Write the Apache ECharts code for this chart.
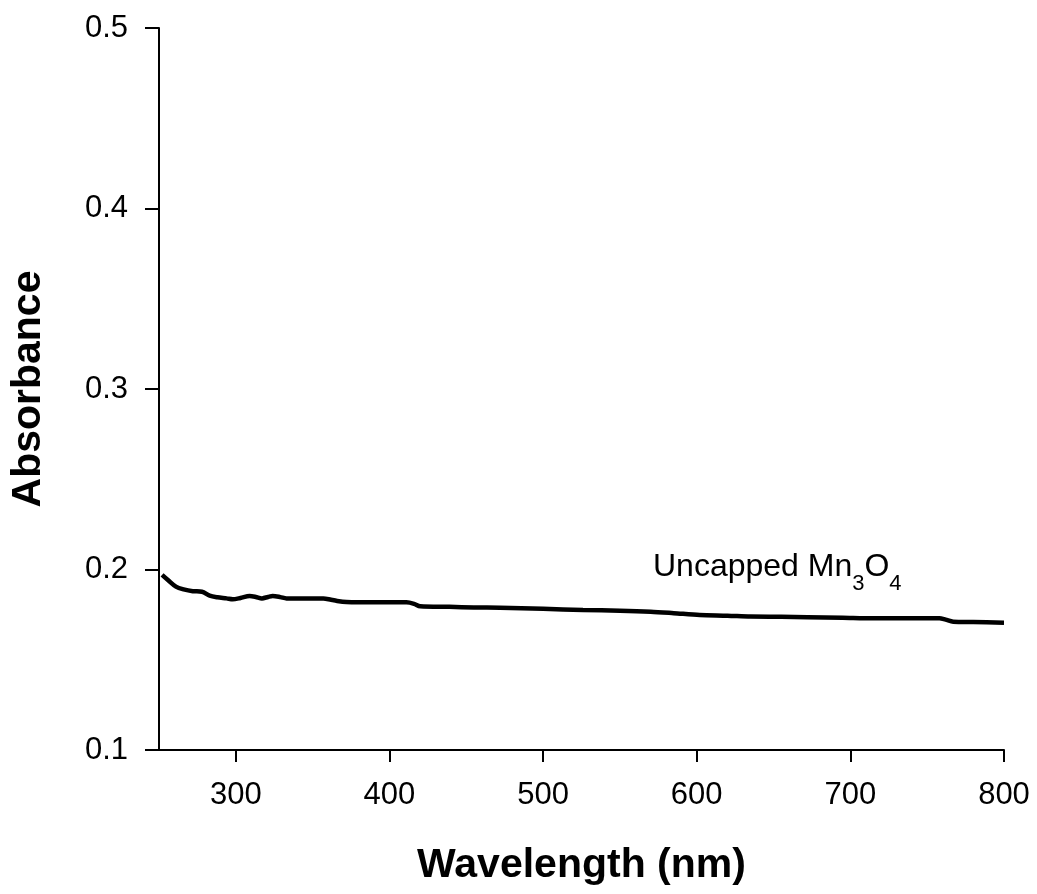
<!DOCTYPE html>
<html>
<head>
<meta charset="utf-8">
<script src="https://cdn.jsdelivr.net/npm/echarts@6/dist/echarts.min.js"></script>
<style>html,body{margin:0;padding:0;background:#fff}#c{width:1037px;height:894px}</style>
</head>
<body>
<div id="c"></div>
<script>
var wavelength = [252, 256, 261, 266, 272, 278, 283, 288, 294, 298, 303, 309, 313, 317, 321, 324, 329, 333, 345, 357, 362, 366, 372, 379, 395, 411, 416, 420, 439, 455, 472, 500, 526, 550, 570, 585, 602, 620, 635, 655, 672, 695, 715, 740, 758, 762, 767, 780, 800];
var absorbance = [0.197, 0.194, 0.1905, 0.189, 0.188, 0.1877, 0.1855, 0.1846, 0.184, 0.1835, 0.1842, 0.1853, 0.1848, 0.184, 0.1848, 0.1853, 0.1847, 0.184, 0.184, 0.184, 0.1832, 0.1826, 0.182, 0.1818, 0.1818, 0.1818, 0.181, 0.1796, 0.1793, 0.179, 0.1788, 0.1782, 0.1776, 0.1772, 0.1766, 0.1758, 0.1748, 0.1744, 0.1739, 0.1738, 0.1736, 0.1733, 0.173, 0.173, 0.173, 0.1722, 0.1711, 0.1709, 0.1705];
var xTicks = [300, 400, 500, 600, 700, 800];
var yTicks = [0.1, 0.2, 0.3, 0.4, 0.5];
var seriesLabel = 'Uncapped Mn';

var chart = echarts.init(document.getElementById('c'));
var font = '"Liberation Sans", Arial, sans-serif';
chart.setOption({
  animation: false,
  backgroundColor: '#fff',
  grid: {left: 159, right: 33, top: 28, bottom: 144, containLabel: false, outerBoundsMode: 'none'},
  xAxis: {
    type: 'value', min: 250, max: 800,
    name: 'Wavelength (nm)', nameLocation: 'middle', nameGap: 95,
    nameTextStyle: {fontFamily: font, fontSize: 41, fontWeight: 'bold', color: '#000'},
    axisLine: {lineStyle: {color: '#000', width: 2}},
    axisTick: {show: true, length: 12, lineStyle: {color: '#000', width: 2},
      customValues: xTicks},
    axisLabel: {fontFamily: font, fontSize: 31, color: '#000', margin: 30,
      customValues: xTicks},
    splitLine: {show: false}
  },
  yAxis: {
    type: 'value', min: 0.1, max: 0.5, interval: 0.1,
    name: 'Absorbance', nameLocation: 'middle', nameGap: 110, nameRotate: 90,
    nameTextStyle: {fontFamily: font, fontSize: 41, fontWeight: 'bold', color: '#000'},
    axisLine: {show: true, lineStyle: {color: '#000', width: 2}},
    axisTick: {show: true, length: 14, lineStyle: {color: '#000', width: 2}},
    axisLabel: {fontFamily: font, fontSize: 31, color: '#000', margin: 31,
      formatter: function (v) { return v.toFixed(1); }},
    splitLine: {show: false}
  },
  series: [{
    type: 'line',
    data: wavelength.map(function (w, i) { return [w, absorbance[i]]; }),
    showSymbol: false,
    lineStyle: {color: '#000', width: 4.5},
    smooth: 0.3
  }],
  graphic: [{
    type: 'text', left: 653, top: 551,
    style: {
      text: '{n|' + seriesLabel + '}{s|3}{n|O}{s|4}',
      rich: {
        n: {fontFamily: font, fontSize: 32, fill: '#000', verticalAlign: 'bottom'},
        s: {fontFamily: font, fontSize: 22, fill: '#000', padding: [0, 0, -12, 0], verticalAlign: 'bottom'}
      }
    }
  }]
});
</script>
</body>
</html>
